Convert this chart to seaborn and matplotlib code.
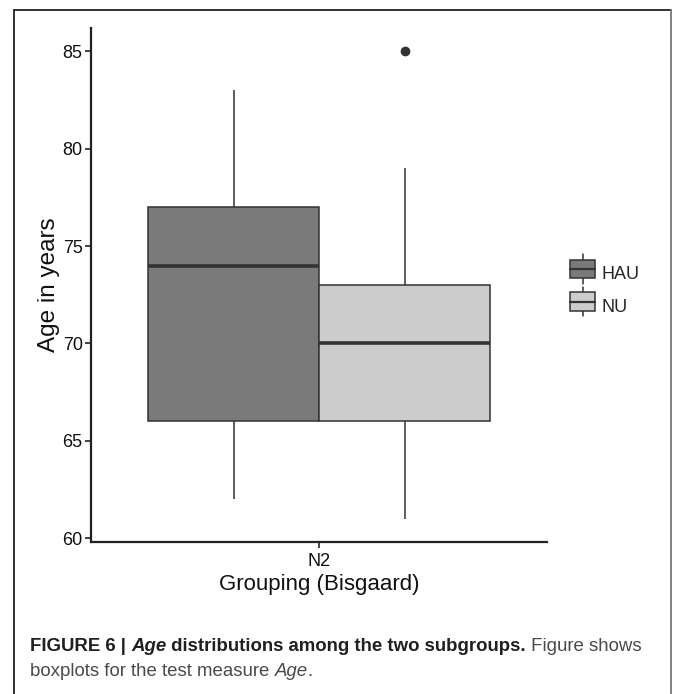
import numpy as np
import pandas as pd
import matplotlib
matplotlib.use("Agg")
import matplotlib.pyplot as plt
import matplotlib.lines as mlines
import matplotlib.patches as mpatches
from matplotlib.legend_handler import HandlerBase
import seaborn as sns

# Values (chosen so the quartiles/whiskers match the boxes)
grouping = "N2"
subgroups = ["HAU", "NU"]
hau_age = [62, 66, 66, 74, 77, 77, 83]
nu_age = [61, 66, 66, 70, 70, 73, 73, 79, 85]
fill_colors = ["#7a7a7a", "#cccccc"]
y_ticks = [60, 65, 70, 75, 80, 85]

df = pd.DataFrame({
    "grouping": grouping,
    "subgroup": ["HAU"] * len(hau_age) + ["NU"] * len(nu_age),
    "age": hau_age + nu_age,
})

sns.set_theme(style="white")
plt.rcParams["font.family"] = ["Liberation Sans", "DejaVu Sans"]

W, H = 675, 694
fig = plt.figure(figsize=(W / 100, H / 100), dpi=100)
ax = fig.add_axes([91 / W, 1 - 542 / H, 456 / W, 514 / H])

line_col = "#333333"
sns.boxplot(
    data=df, x="grouping", y="age", hue="subgroup", hue_order=subgroups,
    palette=fill_colors, width=0.9, gap=0, linecolor=line_col, linewidth=1.1,
    showcaps=False, saturation=1, legend=False, ax=ax,
    medianprops=dict(linewidth=2.6, color=line_col),
    flierprops=dict(marker="o", markersize=6, markerfacecolor=line_col,
                    markeredgecolor=line_col),
)

ax.set_xlim(-0.6, 0.6)
ax.set_ylim(59.8, 86.2)
ax.set_yticks(y_ticks)
for s in ["top", "right"]:
    ax.spines[s].set_visible(False)
for s in ["left", "bottom"]:
    ax.spines[s].set_color("#222222")
    ax.spines[s].set_linewidth(1.6)
ax.tick_params(axis="both", direction="out", length=4, width=1.2, color="#222222",
               labelsize=13, labelcolor="#111111", pad=2, left=True, bottom=True)
ax.tick_params(axis="x", pad=4)
ax.set_xlabel("Grouping (Bisgaard)", fontsize=16, color="#111111", labelpad=3)
ax.set_ylabel("Age in years", fontsize=17.5, color="#111111", labelpad=2)


class BoxKey(HandlerBase):
    def create_artists(self, legend, orig, xd, yd, w, h, fontsize, trans):
        fc = orig.get_facecolor()
        bw, bh = w * 0.92, h * 1.15
        x0 = xd + (w - bw) / 2
        y0 = yd + (h - bh) / 2
        rect = mpatches.Rectangle((x0, y0), bw, bh, facecolor=fc,
                                  edgecolor=line_col, lw=1.1, transform=trans)
        med = mlines.Line2D([x0, x0 + bw], [y0 + bh / 2] * 2, color=line_col,
                            lw=1.6, transform=trans)
        cx = xd + w / 2
        w1 = mlines.Line2D([cx, cx], [y0 + bh, y0 + bh + 4], color=line_col,
                           lw=1.1, transform=trans)
        w2 = mlines.Line2D([cx, cx], [y0 - 4, y0], color=line_col,
                           lw=1.1, transform=trans)
        return [w1, w2, rect, med]


handles = [mpatches.Patch(facecolor=c) for c in fill_colors]
ax.legend(handles, subgroups, handler_map={mpatches.Patch: BoxKey()},
          loc="center left", bbox_to_anchor=(1.033, 0.49), frameon=False,
          fontsize=13, handlelength=1.5, handleheight=1.0,
          labelspacing=0.8, handletextpad=0.3, borderaxespad=0)

# outer frame of the figure panel
frame_kw = dict(transform=fig.transFigure, lw=1.3)
fig.add_artist(mlines.Line2D([13.5 / W] * 2, [0, 1 - 9.5 / H], color="#222222", **frame_kw))
fig.add_artist(mlines.Line2D([13.5 / W, 670.5 / W], [1 - 9.5 / H] * 2, color="#222222", **frame_kw))
fig.add_artist(mlines.Line2D([670.5 / W] * 2, [0, 1 - 9.5 / H], color="#777777", **frame_kw))

# caption, built piece by piece
cap_font = ["Liberation Sans", "DejaVu Sans"]
renderer = fig.canvas.get_renderer()


def put_run(pieces, x_px, y_px):
    x = x_px
    for txt, weight, style, col in pieces:
        t = fig.text(x / W, 1 - y_px / H, txt, fontsize=13.4, family=cap_font,
                     weight=weight, style=style, color=col, va="baseline", ha="left")
        bb = t.get_window_extent(renderer=renderer)
        x = bb.x1


dark = "#231f20"
grey = "#4a4a4a"
put_run([("FIGURE 6 | ", "bold", "normal", dark),
         ("Age", "bold", "italic", dark),
         (" distributions among the two subgroups.", "bold", "normal", dark),
         (" Figure shows", "normal", "normal", grey)], 30, 651)
put_run([("boxplots for the test measure ", "normal", "normal", grey),
         ("Age", "normal", "italic", grey),
         (".", "normal", "normal", grey)], 30, 676)

fig.savefig("out.png", dpi=100)
